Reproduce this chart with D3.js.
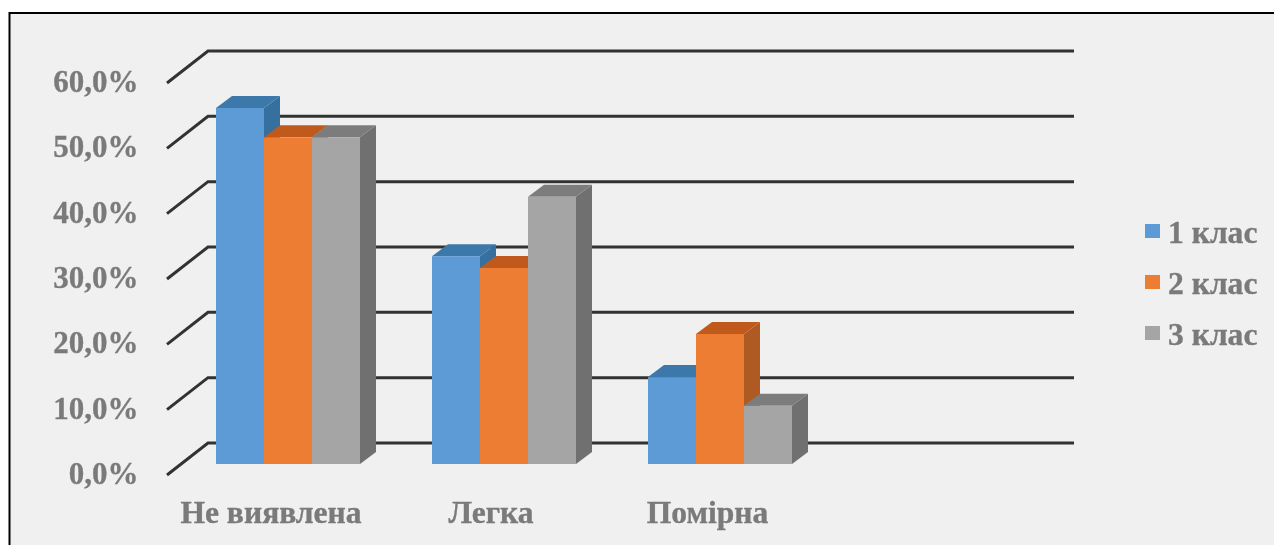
<!DOCTYPE html>
<html><head><meta charset="utf-8">
<script src="https://cdn.jsdelivr.net/npm/d3@7/dist/d3.min.js"></script>
<style>html,body{margin:0;padding:0;background:#fff;overflow:hidden}svg{display:block}text{font-family:"Liberation Serif",serif;font-weight:bold;fill:#7a7a7a;stroke:#7a7a7a;stroke-width:.35px}</style>
</head><body><svg id="c" width="1274" height="545"></svg>
<script>
const categories = ["Не виявлена", "Легка", "Помірна"];
const seriesNames = ["1 клас", "2 клас", "3 клас"];
const class1 = [54.5, 31.8, 13.3];
const class2 = [50.0, 30.0, 19.9];
const class3 = [50.0, 40.9, 8.9];
const tickValues = [0, 10, 20, 30, 40, 50, 60];
const tickLabels = ["0,0%", "10,0%", "20,0%", "30,0%", "40,0%", "50,0%", "60,0%"];
const seriesValues = [class1, class2, class3];
const frontColors = ["#5b9bd5", "#ed7d31", "#a5a5a5"];
const topColors = ["#3d78aa", "#c05a1c", "#7c7c7c"];
const sideColors = ["#34709f", "#ae5a21", "#6f6f6f"];

const svg = d3.select("#c");
const defs = svg.append("defs");
defs.append("filter").attr("id","soft").append("feGaussianBlur").attr("stdDeviation",0.6);
defs.append("filter").attr("id","softer").append("feGaussianBlur").attr("stdDeviation",0.45);

svg.append("rect").attr("x",9).attr("y",13).attr("width",1265).attr("height",532).attr("fill","#f0f0f0");
svg.append("path").attr("d","M9.5,545V13H1274").attr("fill","none").attr("stroke","#000").attr("stroke-width",2);

const y = d3.scaleLinear().domain([0,60]).range([464,72]);
const x0 = d3.scaleBand().domain(categories).range([180,828]).paddingInner(1/3).paddingOuter(1/6);
const x1 = d3.scaleBand().domain(seriesNames).range([0,x0.bandwidth()]);
const depthX = 16, depthY = 12;
const wallX = 41, wallY = 32, floorDrop = 11;

const chart = svg.append("g").attr("filter","url(#soft)");
const line = d3.line();
chart.append("g").selectAll("path").data(tickValues).join("path")
  .attr("d", v => line([[167,y(v)+floorDrop],[167+wallX,y(v)+floorDrop-wallY],[1074,y(v)+floorDrop-wallY]]))
  .attr("fill","none").attr("stroke","#333").attr("stroke-width",3);

categories.forEach((cat,ci) => {
  const g = chart.append("g");
  seriesNames.forEach((s,si) => {
    const v = seriesValues[si][ci];
    const l = x0(cat)+x1(s), r = l+x1.bandwidth(), t = y(v), b = y(0);
    g.append("path").attr("fill",sideColors[si])
      .attr("d",line([[r,t],[r+depthX,t-depthY],[r+depthX,b-depthY],[r,b]])+"Z");
    g.append("path").attr("fill",topColors[si])
      .attr("d",line([[l,t],[l+depthX,t-depthY],[r+depthX,t-depthY],[r,t]])+"Z");
    g.append("rect").attr("x",l).attr("y",t).attr("width",x1.bandwidth()).attr("height",b-t).attr("fill",frontColors[si]);
  });
});

const labels = svg.append("g").attr("filter","url(#softer)");
labels.append("g").selectAll("text").data(tickValues).join("text")
  .attr("x",138.5).attr("y",v => y(v)+20).attr("text-anchor","end").attr("font-size",31)
  .text((v,i) => tickLabels[i]);
const labelNudge = [-17, -13, -12.5];
labels.append("g").selectAll("text").data(categories).join("text")
  .attr("x",(c,i) => x0(c)+x0.bandwidth()/2+labelNudge[i]).attr("y",523).attr("text-anchor","middle").attr("font-size",31.6)
  .text(c => c);

const legendY = d3.scalePoint().domain(seriesNames).range([231,333]);
const legend = labels.append("g").selectAll("g").data(seriesNames).join("g");
legend.append("rect").attr("x",1145).attr("y",s => legendY(s)-7).attr("width",15).attr("height",14)
  .attr("fill",(s,i) => frontColors[i]);
legend.append("text").attr("x",1168).attr("y",s => legendY(s)+11.5).attr("font-size",31.6).text(s => s);
</script></body></html>
